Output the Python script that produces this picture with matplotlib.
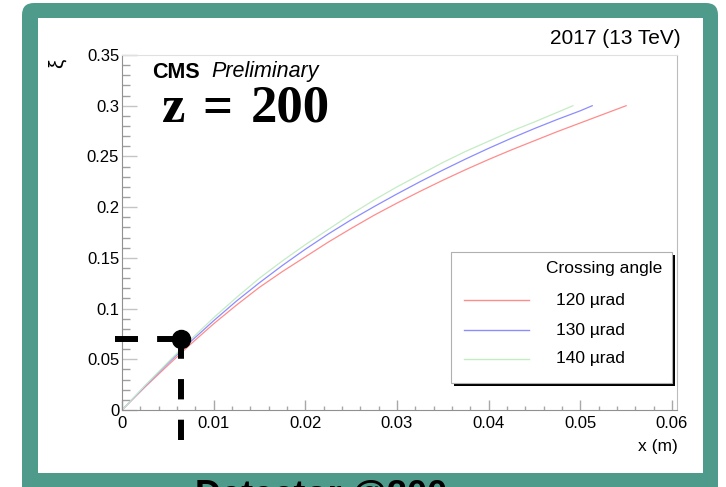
import matplotlib; matplotlib.use("Agg")
import matplotlib.pyplot as plt
import matplotlib.transforms as mtransforms
from matplotlib.patches import FancyBboxPatch, Rectangle
from matplotlib.lines import Line2D
from matplotlib.ticker import MultipleLocator

plt.rcParams["font.family"] = ["Liberation Sans", "DejaVu Sans"]

# xi vs x at the detector for three crossing angles
x_120 = [0, 0.0025, 0.005, 0.0075, 0.01, 0.0125, 0.015, 0.0175, 0.02, 0.0225, 0.025, 0.0275,
         0.03, 0.0325, 0.035, 0.0375, 0.04, 0.0425, 0.045, 0.0475, 0.05, 0.0525, 0.055]
xi_120 = [0, 0.0225, 0.044, 0.065, 0.085, 0.1035, 0.121, 0.1365, 0.151, 0.1655, 0.179, 0.192,
          0.204, 0.2155, 0.2265, 0.237, 0.247, 0.2565, 0.2655, 0.2745, 0.283, 0.2915, 0.300]
x_130 = [0, 0.0025, 0.005, 0.0075, 0.01, 0.0125, 0.015, 0.0175, 0.02, 0.0225, 0.025, 0.0275,
         0.03, 0.0325, 0.035, 0.0375, 0.04, 0.0425, 0.045, 0.0475, 0.05, 0.0513]
xi_130 = [0, 0.0235, 0.046, 0.0675, 0.088, 0.1075, 0.1255, 0.1425, 0.1585, 0.1735, 0.1875, 0.2005,
          0.213, 0.225, 0.2365, 0.2475, 0.258, 0.268, 0.2775, 0.2865, 0.295, 0.300]
x_140 = [0, 0.0025, 0.005, 0.0075, 0.01, 0.0125, 0.015, 0.0175, 0.02, 0.0225, 0.025, 0.0275,
         0.03, 0.0325, 0.035, 0.0375, 0.04, 0.0425, 0.045, 0.0475, 0.0492]
xi_140 = [0, 0.024, 0.047, 0.0695, 0.091, 0.111, 0.130, 0.147, 0.163, 0.178, 0.193, 0.207,
          0.220, 0.232, 0.244, 0.255, 0.265, 0.275, 0.284, 0.2935, 0.300]
angle_labels = ["120 \u00b5rad", "130 \u00b5rad", "140 \u00b5rad"]
colors = ["#ff8c8c", "#8c8cff", "#c4ecc4"]

# selected working point and how far the guide lines reach past the axes
sel_x, sel_y = 0.0064, 0.070
guide_x0, guide_y0 = -0.0008, -0.0296

xticks = [0, 0.01, 0.02, 0.03, 0.04, 0.05, 0.06]
xticklabels = ["0", "0.01", "0.02", "0.03", "0.04", "0.05", "0.06"]
yticks = [0, 0.05, 0.1, 0.15, 0.2, 0.25, 0.3, 0.35]
yticklabels = ["0", "0.05", "0.1", "0.15", "0.2", "0.25", "0.3", "0.35"]

W, H = 726, 487
fig = plt.figure(figsize=(W / 100, H / 100), dpi=100)
# pixel coordinates, y pointing down
pix = mtransforms.Affine2D().scale(1 / W, -1 / H).translate(0, 1) + fig.transFigure

teal = "#4f9b8b"
fig.add_artist(FancyBboxPatch((22, 3), 696, 560, boxstyle="round,pad=0,rounding_size=12",
                              transform=pix, fc=teal, ec="none", zorder=0))
fig.add_artist(Rectangle((38, 18), 665, 455, transform=pix, fc="white", ec="none", zorder=0.5))
fig.text(195, 479, "Detector @200", transform=pix, fontsize=26, fontweight="bold",
         ha="left", va="top", color="black")

ax = fig.add_axes([122 / W, 1 - 410 / H, (677 - 122) / W, (410 - 55) / H])
ax.set_zorder(2)
for xs, ys, c, lab in zip([x_120, x_130, x_140], [xi_120, xi_130, xi_140], colors, angle_labels):
    ax.plot(xs, ys, color=c, lw=0.9, label=lab)

ax.set_xlim(0, 0.06055)
ax.set_ylim(0, 0.35)
ax.set_xticks(xticks)
ax.set_xticklabels(xticklabels)
ax.set_yticks(yticks)
ax.set_yticklabels(yticklabels)
ax.xaxis.set_minor_locator(MultipleLocator(0.002))
ax.yaxis.set_minor_locator(MultipleLocator(0.01))
ax.tick_params(axis="both", which="both", direction="in", labelsize=12, labelcolor="black")
ax.tick_params(axis="y", which="major", length=11, width=1, color="#c4c4c4", pad=2)
ax.tick_params(axis="y", which="minor", length=6, width=1, color="#a0a0a0")
ax.tick_params(axis="x", which="major", length=7, width=1, color="#a8a8a8", pad=4)
ax.tick_params(axis="x", which="minor", length=3, width=1, color="#a8a8a8")
ax.spines["left"].set_color("#909090")
ax.spines["bottom"].set_color("#909090")
ax.spines["top"].set_color("#e0e0e0")
ax.spines["right"].set_color("#bcbcbc")

# dashed guides to the working point
ax.plot([guide_x0, sel_x], [sel_y, sel_y], color="black", lw=4.3, ls=(0, (3.85, 3.2)),
        dash_capstyle="butt", clip_on=False, zorder=5)
ax.plot([sel_x, sel_x], [guide_y0, sel_y], color="black", lw=4.3, ls=(0, (3.4, 3.4)),
        dash_capstyle="butt", clip_on=False, zorder=5)
ax.plot([sel_x], [sel_y], "o", color="black", ms=13, clip_on=False, zorder=6)

# text
fig.text(57, 63, "\u03be", transform=pix, fontsize=15, rotation=90, ha="center", va="center")
fig.text(678, 447, "x (m)", transform=pix, fontsize=12.5, ha="right", va="center")
fig.text(681, 38, "2017 (13 TeV)", transform=pix, fontsize=15, ha="right", va="center")
fig.text(152, 72, "CMS", transform=pix, fontsize=15.5, fontweight="bold", ha="left", va="center")
fig.text(211, 72, "Preliminary", transform=pix, fontsize=15.5, style="italic", ha="left", va="center")
serif = ["Liberation Serif", "DejaVu Serif"]
fig.text(162, 122, "z", transform=pix, fontsize=38, fontweight="bold",
         family=serif, ha="left", va="baseline")
fig.text(202, 122, "=", transform=pix, fontsize=38, fontweight="bold",
         family=serif, ha="left", va="baseline")
fig.text(251, 122, "200", transform=pix, fontsize=38, fontweight="bold",
         family=serif, ha="left", va="baseline")

# legend box with ROOT-style shadow
fig.add_artist(Rectangle((454, 255), 221, 131, transform=pix, fc="black", ec="none", zorder=7))
fig.add_artist(Rectangle((451, 252), 221, 131, transform=pix, fc="white", ec="#b0b0b0",
                         lw=0.8, zorder=8))
fig.text(662, 269, "Crossing angle", transform=pix, fontsize=12.5, ha="right", va="center", zorder=9)
for c, lab, yy in zip(colors, angle_labels, [300, 330, 359]):
    fig.add_artist(Line2D([464, 529], [yy, yy], transform=pix, color=c, lw=1, zorder=9))
    fig.text(556, yy, lab, transform=pix, fontsize=12.5, ha="left", va="center", zorder=9)

fig.savefig("out.png", dpi=100)
